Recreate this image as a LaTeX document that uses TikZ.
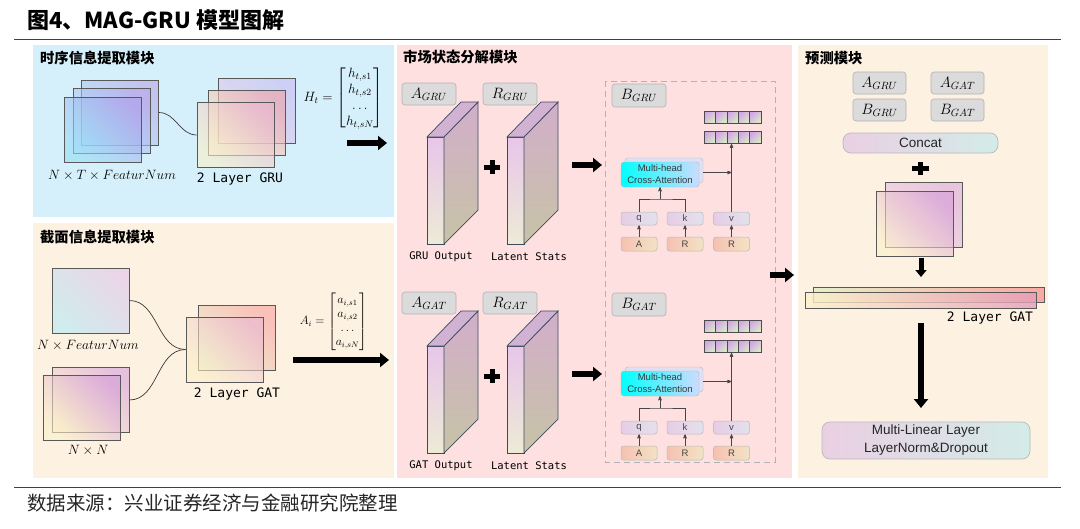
\documentclass[tikz,border=0pt]{standalone}
\usepackage{fix-cm}
\usepackage{amsmath}
\usepackage{fontspec}
\newfontfamily\cjkfont{Noto Sans CJK SC}
\newfontfamily\arialfont{Liberation Sans}
\newfontfamily\codefont{DejaVu Sans Mono}
\usetikzlibrary{arrows}
\usetikzlibrary{arrows.meta}
\usetikzlibrary{positioning}

\definecolor{skyback}{HTML}{D5F0FA}
\definecolor{peachback}{HTML}{FDF1E2}
\definecolor{pinkback}{HTML}{FEE0E1}
\definecolor{slabedge}{HTML}{3B4A5E}
\definecolor{facetop}{HTML}{E8C6EA}
\definecolor{facebot}{HTML}{EDEAD6}
\definecolor{sidetop}{HTML}{D2AECB}
\definecolor{sidebot}{HTML}{C7C3A6}
\definecolor{cellpurple}{HTML}{D5A3E8}
\definecolor{cellgreen}{HTML}{D6EBC5}
\definecolor{boxpink}{HTML}{EACFE3}
\definecolor{boxcyan}{HTML}{D3ECE8}
\definecolor{barleft}{HTML}{E6EFC9}
\definecolor{barright}{HTML}{F8A9A2}
\definecolor{barfleft}{HTML}{FCF1C8}
\definecolor{barfright}{HTML}{E49DB8}

\begin{document}
\begin{tikzpicture}[x=1pt,y=-1pt,>=stealth',
  every node/.style={inner sep=0pt},
  sheet/.style 2 args={/utils/exec={\definecolor{shtop}{HTML}{#1}\definecolor{shbot}{HTML}{#2}},draw=gray!70!black,line width=.6pt,top color=shtop,bottom color=shbot,shading angle=-45,fill opacity=.6,minimum width=77pt,minimum height=65pt},
  tag/.style={draw=gray!60,fill=gray!28,rounded corners=3pt,line width=.6pt,minimum width=54pt,minimum height=22pt,font=\fontsize{15}{15}\selectfont},
  bigarrow/.style={line width=5.5pt,-{Triangle[length=9pt,width=14pt]}},
  plussign/.style={line width=5pt},
  curveline/.style={gray!45!black,line width=.7pt},
  feedline/.style={gray!55!black,line width=.6pt},
  headtitle/.style={anchor=west,font=\cjkfont\bfseries\fontsize{14.3}{16}\selectfont},
  monolbl/.style={font=\codefont\fontsize{13}{15}\selectfont},
  smallmono/.style={font=\codefont\fontsize{10.5}{12}\selectfont},
  mathlbl/.style={font=\fontsize{13.5}{16}\selectfont},
  chip/.style 2 args={/utils/exec={\definecolor{chl}{HTML}{#1}\definecolor{chr}{HTML}{#2}},draw=gray!55,line width=.5pt,rounded corners=2.5pt,left color=chl,right color=chr,minimum width=36pt,font=\arialfont\fontsize{9.5}{10}\selectfont,text=gray!55!black},
  cell/.style={draw=gray!60!black,line width=.5pt,top color=cellpurple,bottom color=cellgreen,shading angle=45,minimum width=11.4pt,minimum height=12pt},
  widebox/.style={draw=gray!55,line width=.7pt,rounded corners=8pt,left color=boxpink,right color=boxcyan,font=\arialfont\fontsize{13.5}{18}\selectfont,text=black!85,align=center},
  layerslab/.pic={
    \path[draw=slabedge,line width=.7pt,top color=facetop,bottom color=facebot] (0,0) rectangle (17,107);
    \path[draw=slabedge,line width=.7pt,top color=sidetop,bottom color=sidebot] (17,0) -- (51,-35) -- (51,73) -- (17,107) -- cycle;
    \path[draw=slabedge,line width=.7pt,fill=facetop!90!black] (0,0) -- (34,-35) -- (51,-35) -- (17,0) -- cycle;
  }]

\useasboundingbox (0,0) rectangle (1080,528);

% title and source
\node[anchor=west,font=\cjkfont\bfseries\fontsize{22}{26}\selectfont] (title) at (27,20) {图4、MAG-GRU 模型图解};
\draw[line width=1.5pt,black!75] (14,39.5) -- (1061,39.5);
\draw[line width=1pt,black!75] (14,487) -- (1061,487);
\node[anchor=west,font=\cjkfont\fontsize{19.5}{21}\selectfont,text=black!85] (source) at (27,503) {数据来源：兴业证券经济与金融研究院整理};

% panels
\fill[skyback] (33,45) rectangle (394,217);
\fill[peachback] (33,223) rectangle (394,478);
\fill[pinkback] (397,45) rectangle (792,478);
\fill[peachback] (798,45) rectangle (1048,478);

\node[headtitle] (t1) at (40,58) {时序信息提取模块};
\node[headtitle] (t2) at (40,237) {截面信息提取模块};
\node[headtitle] (t3) at (403,57) {市场状态分解模块};
\node[headtitle] (t4) at (805,58) {预测模块};

% time series block
\node[sheet={B8A6EA}{A8E2F8}] (seq1) at (120,112.5) {};
\node[sheet={B8A6EA}{A8E2F8}] (seq2) at (111.5,121) {};
\node[sheet={B0A0EA}{96DCF6}] (seq3) at (103,129.5) {};
\node[mathlbl] (seqlbl) at (112,175) {$N\times T\times FeaturNum$};

\node[sheet={C8BCF0}{E8CCE6}] (gru1) at (257,111) {};
\node[sheet={F0A0A8}{FCEFC4}] (gru2) at (246.5,123) {};
\node[sheet={E8B8D0}{FCF0C6}] (gru3) at (235.5,135) {};
\node[monolbl] (grulbl) at (240,179) {2 Layer GRU};
\draw[curveline] (seq1.east) to[out=0,in=180] (gru3.west);

\node[font=\fontsize{13.5}{16}\selectfont] (ht) at (343.5,98)
  {$H_t=\begin{bmatrix} h_{t,s1}\\ h_{t,s2}\\ \dots\\ h_{t,sN}\end{bmatrix}$};
\coordinate (ht0) at (347,143);
\coordinate (ht1) at (387,143);
\draw[bigarrow] (ht0) -- (ht1);

% cross section block
\node[sheet={EAD6E8}{D0ECEC},fill opacity=1] (feat) at (90.5,300.5) {};
\node[mathlbl] (featlbl) at (88,345) {$N\times FeaturNum$};
\node[sheet={D8A2DA}{FAF0C8}] (adj1) at (90.5,400) {};
\node[sheet={D49BD8}{FBF0C6}] (adj2) at (82,408) {};
\node[mathlbl] (adjlbl) at (88,450) {$N\times N$};

\node[sheet={F8A0A0}{E4EEC4}] (gat1) at (237,337.5) {};
\node[sheet={E8B8D4}{FCF0C4}] (gat2) at (224.5,349.5) {};
\node[monolbl] (gatlbl) at (237,394) {2 Layer GAT};
\draw[curveline] (feat.east) to[out=0,in=180] (gat2.west);
\draw[curveline] (adj1.east) to[out=0,in=180] (gat2.west);

\node[font=\fontsize{12}{14}\selectfont] (ai) at (333.5,321.5)
  {$A_i=\begin{bmatrix} a_{i,s1}\\ a_{i,s2}\\ \dots\\ a_{i,sN}\end{bmatrix}$};
\coordinate (ai0) at (293,360);
\coordinate (ai1) at (389,360);
\draw[bigarrow] (ai0) -- (ai1);

% market state block
\draw[gray!60,line width=.8pt,dash pattern=on 6pt off 4pt] (605,81) rectangle (775,462);
\foreach \m/\off/\src in {GRU/0/GRU,GAT/209/GAT}{
  \begin{scope}[shift={(0,\off)}]
    \node[tag] (a\m) at (429,94) {$A_{\m}$};
    \node[tag] (r\m) at (510,94) {$R_{\m}$};
    \pic at (427,137) {layerslab};
    \pic at (507,137) {layerslab};
    \draw[plussign] (484,167) -- (500,167) (492,160) -- (492,174);
    \node[smallmono] (o\m) at (441,257) {\src{} Output};
    \node[smallmono] (l\m) at (529,257) {Latent Stats};
    \coordinate (s\m) at (572,165);
    \coordinate (e\m) at (602,165);
    \draw[bigarrow] (s\m) -- (e\m);
    \node[tag,minimum height=23pt] (b\m) at (639,95.5) {$B_{\m}$};
    % output vectors
    \foreach \i in {0,...,4}{
      \node[cell] (u\m\i) at (709.7+11.4*\i,117) {};
      \node[cell] (w\m\i) at (709.7+11.4*\i,137.5) {};
    }
    % attention
    \node[draw=gray!55,fill=cyan!25!blue!12,rounded corners=3pt,minimum width=78pt,minimum height=25pt] (mhb\m) at (664,170.5) {};
    \node[draw=gray!55,rounded corners=3pt,left color=cyan,right color=cyan!30!blue!20,minimum width=78pt,minimum height=25pt,align=center,font=\arialfont\fontsize{9.5}{12}\selectfont,text=gray!45!black] (mha\m) at (660,174.5) {Multi-head\\Cross-Attention};
    \node[chip={E6CDE6}{E3E1EC},minimum height=13pt] (q\m) at (639,218.5) {q};
    \node[chip={E6CDE6}{E3E1EC},minimum height=13pt] (k\m) at (685,218.5) {k};
    \node[chip={E6CDE6}{E3E1EC},minimum height=13pt] (v\m) at (731.5,218.5) {v};
    \node[chip={F6C1B2}{F2E3C4},minimum height=14pt] (x\m) at (639,244) {A};
    \node[chip={F6C1B2}{F2E3C4},minimum height=14pt] (y\m) at (685,244) {R};
    \node[chip={F6C1B2}{F2E3C4},minimum height=14pt] (z\m) at (731.5,244) {R};
    \draw[feedline,->] (x\m) -- (q\m);
    \draw[feedline,->] (y\m) -- (k\m);
    \draw[feedline,->] (z\m) -- (v\m);
    \coordinate (j\m) at (660,199);
    \draw[feedline] (q\m.north) |- (j\m) -| (k\m.north);
    \draw[feedline,->] (j\m) -- (mha\m);
    \draw[feedline,->] (v\m.north) -- (v\m.north |- w\m2.south);
    \draw[feedline,->] (mhb\m.east |- mha\m.center) ++(0,-2) -- (731.5,172.5);
  \end{scope}
}
\coordinate (mid0) at (770,275);
\coordinate (mid1) at (794,275);
\draw[bigarrow] (mid0) -- (mid1);

% prediction block
\node[tag,minimum width=53pt] (pa1) at (879.5,83) {$A_{GRU}$};
\node[tag,minimum width=53pt] (pa2) at (957.5,83) {$A_{GAT}$};
\node[tag,minimum width=53pt] (pb1) at (879.5,110) {$B_{GRU}$};
\node[tag,minimum width=53pt] (pb2) at (957.5,110) {$B_{GAT}$};
\node[widebox,minimum width=155pt,minimum height=20pt] (concat) at (920.5,143) {Concat};
\draw[plussign] (912,168.5) -- (929,168.5) (920.5,162) -- (920.5,175);
\node[sheet={D8A8DA}{F0D0E4}] (sq1) at (924,215) {};
\node[sheet={D49BD8}{FBF0C6}] (sq2) at (914.5,224) {};
\coordinate (dn0) at (921,258);
\coordinate (dn1) at (921,277);
\draw[line width=5pt,-{Triangle[length=7pt,width=11pt]}] (dn0) -- (dn1);
\node[draw=gray!70!black,line width=.6pt,left color=barleft,right color=barright,minimum width=231pt,minimum height=15pt] (bar1) at (928.5,294.5) {};
\node[draw=gray!70!black,line width=.6pt,left color=barfleft,right color=barfright,fill opacity=.8,minimum width=231pt,minimum height=16pt] (bar2) at (920.5,300) {};
\node[monolbl] (plbl) at (990,318) {2 Layer GAT};
\coordinate (lg0) at (921,323);
\coordinate (lg1) at (921,408);
\draw[bigarrow] (lg0) -- (lg1);
\node[widebox,minimum width=208pt,minimum height=37pt] (mlp) at (926,440.5) {Multi-Linear Layer\\LayerNorm\&Dropout};
\end{tikzpicture}
\end{document}
